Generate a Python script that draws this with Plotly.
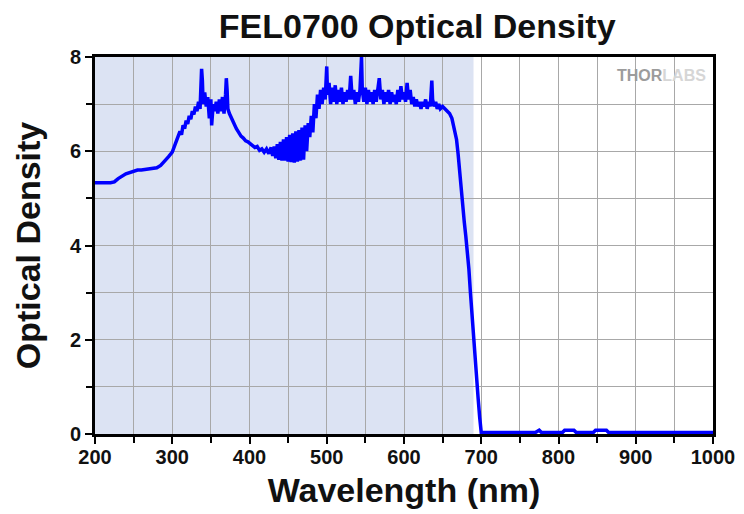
import plotly.graph_objects as go

title_text = "FEL0700 Optical Density"
x_title = "Wavelength (nm)"
y_title = "Optical Density"

wavelength = [
    200, 210, 220, 225, 230, 240, 250, 255, 260, 270, 280, 285, 290, 295, 300, 303, 306,
    308, 310, 312, 314, 316, 318, 320, 322, 324, 326, 328, 330, 332, 334, 336, 338, 339, 340,
    342, 344, 346, 348, 350, 351, 353, 355, 357, 359, 361, 363, 365, 367, 369, 370, 371, 372,
    374, 376,
    378, 380, 383, 386, 389, 392, 395, 398, 401, 404, 407, 410, 413, 416, 419, 422, 425, 428, 430,
    432, 434, 436, 438, 440, 442, 444, 446, 448, 450, 452, 454, 456, 458, 460, 462, 464, 466,
    468, 470, 472, 474, 476, 478, 480, 482, 484, 486, 488, 490, 492, 494, 496, 498, 500, 501,
    503, 505, 507, 509, 511, 513, 515, 517, 519, 521, 523, 525, 527, 529, 531, 533, 535, 537,
    539, 541, 543, 545, 546, 548, 550, 552, 554, 556, 558, 560, 562, 564, 566, 568, 570, 572,
    574, 576, 578, 580, 582, 584, 586, 588, 590, 592, 594, 596, 598, 600, 602, 604, 606, 608,
    610, 612, 614, 616, 618, 620, 622, 624, 626, 628, 630, 632, 634, 636, 637, 639, 641, 643,
    645, 647, 650, 653, 656, 659, 662, 665, 668, 670, 672, 674, 676, 678, 680, 682, 684, 686,
    688, 690, 692, 694, 696, 698, 699, 700,
    720, 770, 775, 778, 805, 808, 820, 823, 845, 848, 862, 865, 1000,
]

optical_density = [
    5.33, 5.33, 5.33, 5.35, 5.42, 5.52, 5.58, 5.60, 5.60, 5.62, 5.65, 5.70, 5.78, 5.88, 5.98, 6.10, 6.22,
    6.30, 6.42, 6.35, 6.55, 6.48, 6.65, 6.58, 6.75, 6.68, 6.85, 6.78, 6.95, 6.85, 7.05, 6.90, 7.75, 7.50, 7.00,
    7.25, 6.95, 7.15, 6.70, 7.10, 6.55, 7.00, 6.85, 7.05, 6.80, 7.10, 6.85, 7.15, 6.80, 7.20, 7.55, 7.30, 6.90,
    6.80, 6.72,
    6.65, 6.58, 6.48, 6.40, 6.32, 6.28, 6.22, 6.20, 6.15, 6.12, 6.08, 6.10, 6.02, 6.05, 5.98, 6.05, 5.95, 6.08, 5.90,
    6.10, 5.85, 6.15, 5.82, 6.20, 5.80, 6.25, 5.80, 6.30, 5.78, 6.35, 5.77, 6.38, 5.76, 6.42, 5.78, 6.45, 5.80,
    6.50, 5.82, 6.55, 6.00, 6.60, 6.30, 6.75, 6.40, 7.00, 6.70, 7.20, 6.90, 7.30, 7.00, 7.35, 7.10, 7.80, 7.20,
    7.45, 7.00, 7.35, 7.05, 7.40, 7.00, 7.30, 7.05, 7.35, 7.00, 7.25, 7.05, 7.30, 7.10, 7.60, 7.10, 7.30, 7.00,
    7.25, 7.05, 7.30, 8.00, 7.30, 7.05, 7.35, 7.00, 7.30, 7.05, 7.25, 7.00, 7.30, 7.05, 7.35, 7.55, 7.10, 7.30,
    7.00, 7.25, 7.05, 7.30, 7.00, 7.25, 7.05, 7.20, 7.00, 7.30, 7.05, 7.38, 7.10, 7.25, 7.05, 7.45, 7.10, 7.30,
    7.00, 7.15, 6.95, 7.10, 6.95, 7.05, 6.90, 7.05, 6.95, 7.10, 6.90, 7.05, 6.95, 7.50, 7.10, 6.95, 7.05, 6.90,
    7.00, 6.90, 6.95, 6.90, 6.85, 6.80, 6.70, 6.50, 6.25, 5.95, 5.55, 5.15, 4.80, 4.50, 4.20, 3.90, 3.50, 3.00,
    2.50, 2.00, 1.60, 1.20, 0.75, 0.35, 0.15, 0.03,
    0.03, 0.03, 0.08, 0.03, 0.03, 0.08, 0.08, 0.03, 0.03, 0.08, 0.08, 0.03, 0.03,
]

shade_range = [200, 690]
x_range = [200, 1000]
y_range = [0, 8]

FONT = "Liberation Sans, Arial, sans-serif"

fig = go.Figure()
fig.add_trace(go.Scatter(
    x=wavelength, y=optical_density, mode="lines",
    line=dict(color="#0000ff", width=3.5), showlegend=False,
))

fig.add_shape(type="rect", xref="x", yref="y",
              x0=shade_range[0], x1=shade_range[1], y0=y_range[0], y1=y_range[1],
              fillcolor="#dce3f3", line_width=0, layer="below")

fig.add_annotation(
    xref="paper", yref="paper", x=0.992, y=0.952, xanchor="right", yanchor="middle",
    text="<span style='color:#9c9c9c'>THOR</span><span style='color:#d6d6d6'>LABS</span>",
    showarrow=False, font=dict(family=FONT, size=16, weight="bold"),
)

fig.update_layout(
    width=744, height=514,
    margin=dict(l=87, r=39, t=49, b=88, autoexpand=False),
    paper_bgcolor="white", plot_bgcolor="white",
    title=dict(text=title_text, x=0.55, xanchor="center", y=0.965, yanchor="middle",
               font=dict(family=FONT, size=34, color="#111111", weight="bold")),
    font=dict(family=FONT, color="#111111"),
)

fig.update_xaxes(
    range=x_range, dtick=100, tick0=200, automargin=False,
    showline=True, linecolor="black", linewidth=3, mirror=True,
    ticks="outside", ticklen=7, tickwidth=2, tickcolor="black",
    showgrid=True, gridcolor="#a8a8a8", gridwidth=1,
    minor=dict(dtick=50, ticks="outside", ticklen=6, tickwidth=2, tickcolor="black",
               showgrid=True, gridcolor="#a8a8a8", gridwidth=1),
    tickfont=dict(family=FONT, size=20, weight="bold"),
    ticklabelstandoff=-4,
    title=dict(text=x_title, font=dict(family=FONT, size=34, weight="bold"), standoff=12),
    zeroline=False,
)
fig.update_yaxes(
    range=y_range, dtick=2, tick0=0, automargin=False,
    showline=True, linecolor="black", linewidth=3, mirror=True,
    ticks="outside", ticklen=7, tickwidth=2, tickcolor="black",
    showgrid=True, gridcolor="#a8a8a8", gridwidth=1,
    minor=dict(dtick=1, ticks="outside", ticklen=6, tickwidth=2, tickcolor="black",
               showgrid=True, gridcolor="#a8a8a8", gridwidth=1),
    tickfont=dict(family=FONT, size=20, weight="bold"),
    title=dict(text=y_title, font=dict(family=FONT, size=34, weight="bold"), standoff=19),
    zeroline=False,
)

fig.write_html("out.html")
